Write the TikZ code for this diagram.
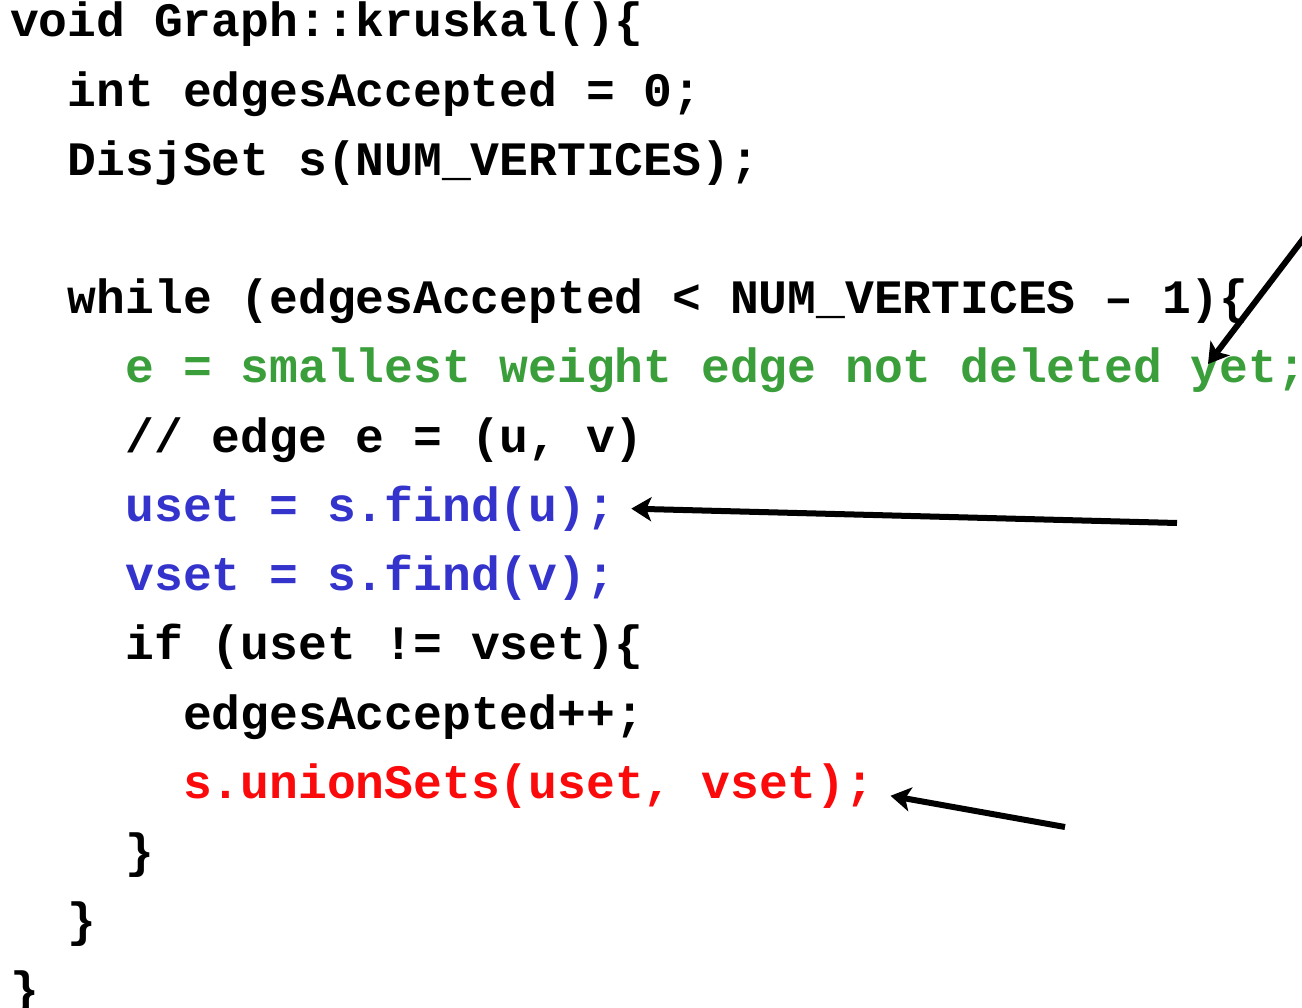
\documentclass[tikz,border=0pt]{standalone}
\usepackage{fontspec}
\setmonofont{Liberation Mono}
\usetikzlibrary{arrows.meta}
\definecolor{codegreen}{RGB}{58,158,58}
\definecolor{codeblue}{RGB}{52,52,204}
\definecolor{codered}{RGB}{250,10,10}
\tikzset{
  code/.style={anchor=base west, inner sep=0pt, font=\fontsize{48}{69}\ttfamily\bfseries, text=black},
  pointer/.style={line width=6pt, -{Stealth[length=20pt,width=24pt,inset=5pt]}, black}
}
\begin{document}
\begin{tikzpicture}[x=1pt,y=-1pt]
\useasboundingbox (0,0) rectangle (1302,1008);
\def\xo{10}
\def\pw{28.8}
\def\yo{37}
\def\lh{69.2}
\node[code] (l0) at (\xo+0*\pw,\yo+0*\lh) {void Graph::kruskal()\{};
\node[code] (l1) at (\xo+2*\pw,\yo+1*\lh) {int edgesAccepted = 0;};
\node[code] (l2) at (\xo+2*\pw,\yo+2*\lh) {DisjSet s(NUM\_VERTICES);};
\node[code] (l4) at (\xo+2*\pw,\yo+4*\lh) {while (edgesAccepted < NUM\_VERTICES – 1)\{};
\node[code, text=codegreen] (l5) at (\xo+4*\pw,\yo+5*\lh) {e = smallest weight edge not deleted yet;};
\node[code] (l6) at (\xo+4*\pw,\yo+6*\lh) {// edge e = (u, v)};
\node[code, text=codeblue] (l7) at (\xo+4*\pw,\yo+7*\lh) {uset = s.find(u);};
\node[code, text=codeblue] (l8) at (\xo+4*\pw,\yo+8*\lh) {vset = s.find(v);};
\node[code] (l9) at (\xo+4*\pw,\yo+9*\lh) {if (uset != vset)\{};
\node[code] (l10) at (\xo+6*\pw,\yo+10*\lh) {edgesAccepted++;};
\node[code, text=codered] (l11) at (\xo+6*\pw,\yo+11*\lh) {s.unionSets(uset, vset);};
\node[code] (l12) at (\xo+4*\pw,\yo+12*\lh) {\}};
\node[code] (l13) at (\xo+2*\pw,\yo+13*\lh) {\}};
\node[code] (l14) at (\xo+0*\pw,\yo+14*\lh) {\}};
% arrow tails and tips
\coordinate (t1) at (1310,230);
\coordinate (h1) at (1208,364);
\coordinate (t2) at (1177,523);
\coordinate (t3) at (1065,827);
\draw[pointer] (t1) -- (h1);
\draw[pointer] (t2) -- ([xshift=16pt,yshift=0pt]l7.east);
\draw[pointer] (t3) -- ([xshift=16pt,yshift=-10pt]l11.east);
\end{tikzpicture}
\end{document}
